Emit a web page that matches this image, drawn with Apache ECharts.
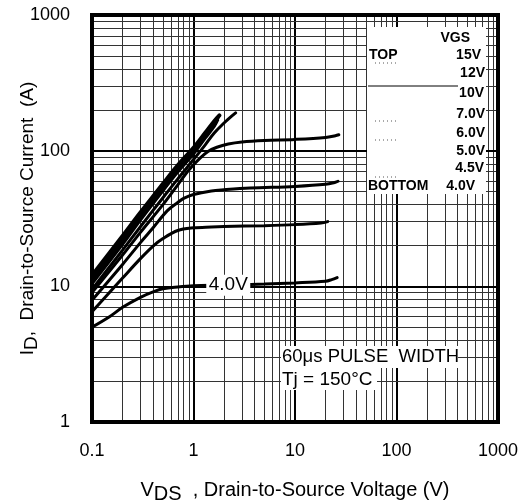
<!DOCTYPE html>
<html>
<head>
<meta charset="utf-8">
<script src="https://cdn.jsdelivr.net/npm/echarts@6/dist/echarts.min.js"></script>
<style>html,body{margin:0;padding:0;background:#fff;}#c{width:529px;height:503px;}</style>
</head>
<body>
<div id="c"></div>
<script>
// ---- tick labels ----
const xTicks = [0.1, 1, 10, 100, 1000];
const yTicks = [1, 10, 100, 1000];
const legendLabels = ['15V', '12V', '10V', '7.0V', '6.0V', '5.0V', '4.5V', '4.0V'];

// ---- series values [VDS (V), ID (A)] ----
const vgs15 = [[0.1,12],[0.2,23.5],[0.3,35],[0.5,57],[0.7,78],[1,105],[1.3,135],[1.6,165],[1.8,182]];
const vgs12 = [[0.1,11.2],[0.2,22],[0.3,33],[0.5,54],[0.7,74],[1,100],[1.3,130],[1.6,160],[1.75,176]];
const vgs10 = [[0.1,10.5],[0.2,20.5],[0.3,31],[0.5,51],[0.7,70],[1,95],[1.3,124],[1.6,152],[1.72,168]];
const vgs7  = [[0.1,9.5],[0.2,18.5],[0.3,27.5],[0.5,45],[0.7,62],[1,86],[1.3,110],[1.6,135],[2,160],[2.3,176],[2.6,190]];
const vgs6  = [[0.1,9],[0.2,17],[0.3,25],[0.5,40],[0.7,56],[0.9,72],[1.16,88],[1.4,99],[1.7,106],[2.2,112],[3,116],[5,119],[10,121],[20,125],[25,129],[27,131]];
const vgs5  = [[0.1,7.9],[0.2,14.5],[0.3,21],[0.4,27],[0.55,36],[0.7,41.5],[0.8,44.5],[1,47.5],[1.5,50.5],[2,51.5],[3.6,53],[10,54.5],[20,56.5],[25,58.5],[26.5,59.5]];
const vgs45 = [[0.1,6.5],[0.2,11.5],[0.3,16],[0.4,19.8],[0.5,22.5],[0.7,25.8],[1,27],[1.5,27.4],[2,27.6],[5,28],[10,28.5],[18,29.3],[21,30]];
const vgs4  = [[0.1,5],[0.15,6],[0.2,7],[0.3,8.3],[0.4,9.1],[0.5,9.6],[0.7,9.9],[1,10.1],[2,10.2],[5,10.4],[10,10.6],[20,10.9],[23,11.2],[26,11.6]];

// log grid lines (1..9 per decade)
function logLines(lo, hi){
  const out = [];
  for (let d = lo; d < hi; d *= 10) for (let k = 1; k <= 9; k++) out.push(+(d*k).toPrecision(6));
  out.push(hi);
  return out;
}
const xGrid = logLines(0.1, 1000);
const yGrid = logLines(1, 1000);
const isMajor = v => Math.abs(Math.log10(v) - Math.round(Math.log10(v))) < 1e-6;

function fmt(list){ return function(v){ let best = list[0]; list.forEach(t=>{ if (Math.abs(Math.log10(t)-Math.log10(v)) < Math.abs(Math.log10(best)-Math.log10(v))) best = t; }); return String(best); }; }

const FONT = 'Liberation Sans, Arial, Helvetica, sans-serif';

const gridMarks = [];
xGrid.forEach(v => gridMarks.push({xAxis: v, lineStyle: {color: isMajor(v) ? '#000' : '#333', width: isMajor(v) ? 2 : 1}}));
yGrid.forEach(v => gridMarks.push({yAxis: v, lineStyle: {color: isMajor(v) ? '#000' : '#333', width: isMajor(v) ? 2 : 1}}));

function curve(name, data, extra){
  return Object.assign({
    name, type: 'line', data, smooth: 0.35, symbol: 'none', z: 5,
    lineStyle: {color: '#000', width: 3, cap: 'round'}
  }, extra || {});
}

const legendRowsY = [55, 73, 93, 114, 133, 151, 168, 186];
const legendRightX = [481, 485, 484, 485, 485, 485, 484, 475];

const graphics = [
  {type: 'rect', z: 100, shape: {x: 367, y: 27, width: 119, height: 167}, style: {fill: '#fff'}},
  {type: 'text', z: 101, style: {text: 'VGS', x: 470, y: 38, align: 'right', verticalAlign: 'middle', font: 'bold 14px ' + FONT, fill: '#000'}},
  {type: 'text', z: 101, style: {text: 'TOP', x: 369, y: 55, align: 'left', verticalAlign: 'middle', font: 'bold 14px ' + FONT, fill: '#000'}},
  {type: 'text', z: 101, style: {text: 'BOTTOM', x: 368, y: 186, align: 'left', verticalAlign: 'middle', font: 'bold 14px ' + FONT, fill: '#000'}},
  {type: 'line', z: 101, shape: {x1: 375, y1: 63, x2: 398, y2: 63}, style: {stroke: '#555', lineWidth: 1, lineDash: [1, 3]}},
  {type: 'line', z: 101, shape: {x1: 368, y1: 86, x2: 458, y2: 86}, style: {stroke: '#000', lineWidth: 1}},
  {type: 'line', z: 101, shape: {x1: 375, y1: 121, x2: 398, y2: 121}, style: {stroke: '#555', lineWidth: 1, lineDash: [1, 3]}},
  {type: 'line', z: 101, shape: {x1: 375, y1: 140, x2: 398, y2: 140}, style: {stroke: '#555', lineWidth: 1, lineDash: [1, 3]}},
  {type: 'line', z: 101, shape: {x1: 375, y1: 177, x2: 398, y2: 177}, style: {stroke: '#555', lineWidth: 1, lineDash: [1, 3]}},
  {type: 'rect', z: 100, shape: {x: 281, y: 346, width: 177, height: 22}, style: {fill: '#fff'}},
  {type: 'rect', z: 100, shape: {x: 281, y: 368, width: 96, height: 22}, style: {fill: '#fff'}},
  {type: 'text', z: 101, style: {text: '60\u03bcs PULSE  WIDTH', x: 282, y: 357, align: 'left', verticalAlign: 'middle', font: '18.5px ' + FONT, fill: '#000'}},
  {type: 'text', z: 101, style: {text: 'Tj = 150\u00b0C', x: 282, y: 380, align: 'left', verticalAlign: 'middle', font: '19px ' + FONT, fill: '#000'}}
];
legendLabels.forEach((t, i) => graphics.push({type: 'text', z: 101, style: {text: t, x: legendRightX[i], y: legendRowsY[i], align: 'right', verticalAlign: 'middle', font: 'bold 14px ' + FONT, fill: '#000'}}));

const chart = echarts.init(document.getElementById('c'), null, {renderer: 'canvas'});
chart.setOption({
  animation: false,
  backgroundColor: '#fff',
  textStyle: {fontFamily: FONT},
  grid: {left: 92, right: 31, top: 15, bottom: 81, show: true, borderColor: '#000', borderWidth: 4, backgroundColor: 'transparent', z: 50, outerBoundsMode: 'none', containLabel: false},
  xAxis: {
    type: 'log', logBase: 10, min: 0.1, max: 1000,
    axisLine: {show: false}, axisTick: {show: false}, splitLine: {show: false},
    axisLabel: {formatter: fmt(xTicks), fontSize: 18, color: '#000', margin: 20},
    name: '{v|V}{sub|DS}{n|  , Drain-to-Source Voltage (V)}',
    nameLocation: 'middle', nameGap: 58, nameMoveOverlap: false,
    nameTextStyle: {rich: {
      v: {fontSize: 20, color: '#000', lineHeight: 20},
      sub: {fontSize: 20, color: '#000', padding: [8, 0, 0, 0], lineHeight: 20},
      n: {fontSize: 20, color: '#000', lineHeight: 20}
    }}
  },
  yAxis: {
    type: 'log', logBase: 10, min: 1, max: 1000,
    axisLine: {show: false}, axisTick: {show: false}, splitLine: {show: false},
    axisLabel: {formatter: fmt(yTicks), fontSize: 18, color: '#000', margin: 22},
    name: '{v|I}{sub|D}{n|,  Drain-to-Source Current  (A)}',
    nameLocation: 'middle', nameGap: 54, nameMoveOverlap: false,
    nameTextStyle: {rich: {
      v: {fontSize: 19, color: '#000', lineHeight: 20},
      sub: {fontSize: 19, color: '#000', padding: [8, 0, 0, 0], lineHeight: 20},
      n: {fontSize: 19, color: '#000', lineHeight: 20}
    }}
  },
  graphic: graphics,
  series: [
    {type: 'line', data: [[0.1, 1]], symbol: 'none', lineStyle: {opacity: 0}, silent: true, z: 1,
     markLine: {silent: true, symbol: ['none', 'none'], label: {show: false}, animation: false,
       lineStyle: {type: 'solid', color: '#333', width: 1}, data: gridMarks}},
    curve('4.0V', vgs4, {markPoint: {symbol: 'rect', symbolSize: [44, 21], itemStyle: {color: '#fff'}, z: 20, data: [{coord: [2.2, 10.2]}],
      label: {show: true, formatter: '4.0V', fontSize: 19, color: '#000', position: 'inside'}}}),
    curve('4.5V', vgs45),
    curve('5.0V', vgs5),
    curve('6.0V', vgs6),
    curve('7.0V', vgs7),
    curve('10V', vgs10, {lineStyle: {color: '#000', width: 3.5, cap: 'round'}}),
    curve('12V', vgs12, {lineStyle: {color: '#000', width: 3.5, cap: 'round'}}),
    curve('15V', vgs15, {lineStyle: {color: '#000', width: 4, cap: 'round'}})
  ]
});
</script>
</body>
</html>
